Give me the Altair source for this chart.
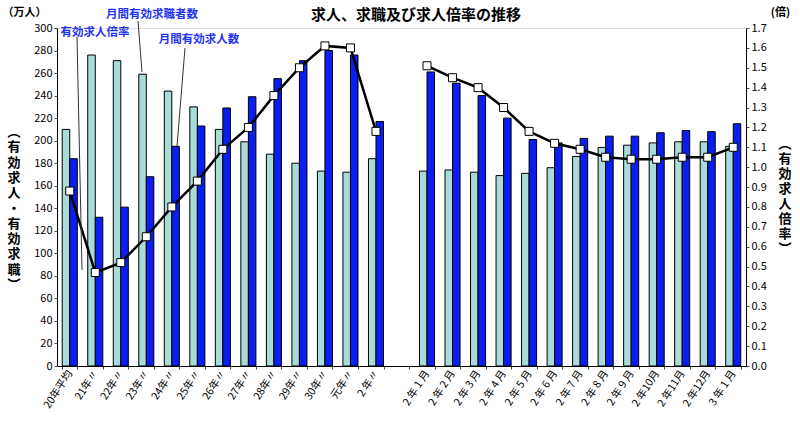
import altair as alt
import pandas as pd

categories = ["20年平均", "21年〃", "22年〃", "23年〃", "24年〃", "25年〃", "26年〃", "27年〃",
              "28年〃", "29年〃", "30年〃", "元年〃", "2 年〃", " ",
              "2 年 1 月", "2 年 2 月", "2 年 3 月", "2 年 4 月", "2 年 5 月", "2 年 6 月", "2 年 7 月",
              "2 年 8 月", "2 年 9 月", "2 年10月", "2 年11月", "2 年12月", "3 年 1 月"]

seekers = [210, 276, 271, 259, 244, 230, 210, 199, 188, 180, 173, 172, 184, None,
           173, 174, 172, 169, 171, 176, 186, 194, 196, 198, 199, 199, 195]
openings = [184, 132, 141, 168, 195, 213, 229, 239, 255, 271, 280, 276, 217, None,
            261, 251, 240, 220, 201, 198, 202, 204, 204, 207, 209, 208, 215]
ratio = [0.88, 0.47, 0.52, 0.65, 0.80, 0.93, 1.09, 1.20, 1.36, 1.50, 1.61, 1.60, 1.18, None,
         1.51, 1.45, 1.40, 1.30, 1.18, 1.12, 1.09, 1.05, 1.04, 1.04, 1.05, 1.05, 1.10]
segment = ["年"] * 13 + [None] + ["月"] * 13

series_names = ["月間有効求職者数", "月間有効求人数"]
series_colors = ["#A8DCDA", "#0A1EF2"]

FONT = "Noto Sans CJK JP"

rows = []
for c, s, o in zip(categories, seekers, openings):
    if s is not None:
        rows.append({"cat": c, "series": series_names[0], "value": s})
        rows.append({"cat": c, "series": series_names[1], "value": o})
bars_df = pd.DataFrame(rows)

ratio_df = pd.DataFrame([{"cat": c, "ratio": r, "seg": g}
                         for c, r, g in zip(categories, ratio, segment) if r is not None])

xscale = alt.Scale(domain=categories, paddingInner=0.41, paddingOuter=0.205)

bars = alt.Chart(bars_df).mark_bar(stroke="black", strokeWidth=1).encode(
    x=alt.X("cat:N", scale=xscale, sort=categories, title=None,
            axis=alt.Axis(labelAngle=-57, labelAlign="right", labelBaseline="middle",
                          labelFontSize=10.5, labelFont=FONT, labelColor="black",
                          tickBand="extent", tickSize=3, tickColor="#444", ticks=True,
                          labels=True, labelOverlap=False,
                          domainColor="black", labelPadding=2)),
    xOffset=alt.XOffset("series:N", sort=series_names,
                        scale=alt.Scale(paddingInner=0, paddingOuter=0)),
    y=alt.Y("value:Q", scale=alt.Scale(domain=[0, 300], nice=False),
            axis=alt.Axis(values=list(range(0, 301, 20)), title="（万人）", titleAngle=0,
                          titleX=-33, titleY=-16, titleAlign="center", titleBaseline="middle",
                          titleFont=FONT, titleFontSize=11, titleFontWeight="bold",
                          labelFont=FONT, labelFontSize=11, labelColor="black",
                          tickSize=3, domainColor="black", tickColor="#444", grid=False)),
    color=alt.Color("series:N", scale=alt.Scale(domain=series_names, range=series_colors),
                    legend=None),
)

ybase = alt.Y("ratio:Q", scale=alt.Scale(domain=[0, 1.7], nice=False),
              axis=alt.Axis(orient="right", values=[i / 10 for i in range(0, 18)], format=".1f",
                            title="(倍)", titleAngle=0, titleX=34, titleY=-16,
                            titleAlign="center", titleBaseline="middle",
                            titleFont=FONT, titleFontSize=11, titleFontWeight="bold",
                            labelFont=FONT, labelFontSize=11, labelColor="black",
                            tickSize=3, domainColor="black", tickColor="#444", grid=False))

line = alt.Chart(ratio_df).mark_line(color="black", strokeWidth=2.5).encode(
    x=alt.X("cat:N", sort=categories),
    y=ybase,
    detail="seg:N",
)
points = alt.Chart(ratio_df).mark_point(shape="square", filled=True, fill="white",
                                         stroke="black", strokeWidth=1, size=64, opacity=1).encode(
    x=alt.X("cat:N", sort=categories),
    y=ybase,
)
ratio_layer = alt.layer(line, points)

# annotations (plot-relative pixel coordinates)
ann_text = ["有効求人倍率", "月間有効求職者数", "月間有効求人数"]
ann_x = [38, 95, 142]
ann_y = [5, -13, 12]
ann_rules = [(20, 9, 25, 242), (81, -7, 85, 44), (128, 20, 120, 118)]

label_color = "#1F33F0"
ann_layers = []
for t, ax_, ay_ in zip(ann_text, ann_x, ann_y):
    ann_layers.append(alt.Chart(pd.DataFrame({"t": [t]})).mark_text(
        font=FONT, fontSize=11.5, fontWeight="bold", color=label_color, align="center",
        baseline="middle").encode(text="t:N", x=alt.value(ax_), y=alt.value(ay_)))
for (x1, y1, x2, y2) in ann_rules:
    ann_layers.append(alt.Chart(pd.DataFrame({"a": [0]})).mark_rule(
        color="#333", strokeWidth=1).encode(
        x=alt.value(x1), y=alt.value(y1), x2=alt.value(x2), y2=alt.value(y2)))

title_layer = alt.Chart(pd.DataFrame({"t": ["求人、求職及び求人倍率の推移"]})).mark_text(
    font=FONT, fontSize=15, fontWeight="bold", color="black", align="center",
    baseline="middle").encode(text="t:N", x=alt.value(359), y=alt.value(-13))

left_title = list("︵有効求人・有効求職︶")
right_title = list("︵有効求人倍率︶")
vt_left = alt.Chart(pd.DataFrame({"a": [0]})).mark_text(
    font=FONT, fontSize=13, fontWeight="bold", color="black", align="center",
    baseline="top", lineHeight=15.3).encode(
    text=alt.value(left_title), x=alt.value(-43), y=alt.value(98))
vt_right = alt.Chart(pd.DataFrame({"a": [0]})).mark_text(
    font=FONT, fontSize=13, fontWeight="bold", color="black", align="center",
    baseline="top", lineHeight=15).encode(
    text=alt.value(right_title), x=alt.value(728), y=alt.value(110))

chart = alt.layer(bars, ratio_layer, *ann_layers, title_layer, vt_left, vt_right).resolve_scale(
    y="independent"
).properties(
    width=689, height=338,
    padding={"left": 57, "top": 28, "right": 54, "bottom": 55},
    autosize=alt.AutoSizeParams(type="none"),
).configure_view(stroke=None).configure(background="white")

chart.save("out.html", embed_options={"renderer": "svg", "actions": False})
